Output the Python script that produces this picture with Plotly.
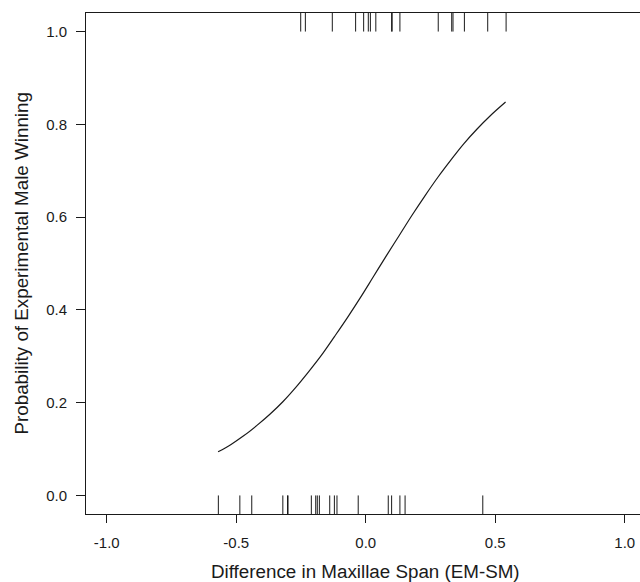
import plotly.graph_objects as go

# Observed differences in maxillae span (EM-SM), split by outcome
win_x = [-0.251, -0.233, -0.129, -0.039, -0.008, 0.010, 0.018, 0.039, 0.100, 0.102,
         0.132, 0.280, 0.332, 0.337, 0.381, 0.471, 0.542]
loss_x = [-0.569, -0.486, -0.440, -0.320, -0.300, -0.302, -0.210, -0.193, -0.187, -0.179,
          -0.139, -0.121, -0.111, -0.029, 0.087, 0.100, 0.132, 0.152, 0.452]
win_y = 1.0
loss_y = 0.0

# Fitted probability curve
curve_x = [-0.57, -0.52, -0.47, -0.42, -0.37, -0.32, -0.27, -0.22, -0.17, -0.12,
           -0.07, -0.02, 0.03, 0.08, 0.13, 0.18, 0.23, 0.28, 0.33, 0.38, 0.43, 0.48, 0.54]
curve_p = [0.094, 0.110, 0.129, 0.151, 0.175, 0.202, 0.233, 0.267, 0.303, 0.343,
           0.384, 0.427, 0.472, 0.517, 0.561, 0.605, 0.647, 0.687, 0.724, 0.759,
           0.790, 0.818, 0.848]

x_ticks = [-1.0, -0.5, 0.0, 0.5, 1.0]
y_ticks = [0.0, 0.2, 0.4, 0.6, 0.8, 1.0]

RUG = 0.046
FONT = "Liberation Sans, Arial, Helvetica, sans-serif"
INK = "#1a1a1a"


def rug(xs, y0, y1):
    X, Y = [], []
    for v in xs:
        X += [v, v, None]
        Y += [y0, y1, None]
    return X, Y


fig = go.Figure()
tx, ty = rug(win_x, win_y, win_y + RUG)
fig.add_trace(go.Scatter(x=tx, y=ty, mode="lines", line=dict(color=INK, width=1),
                         hoverinfo="skip", showlegend=False))
bx, by = rug(loss_x, loss_y, loss_y - RUG)
fig.add_trace(go.Scatter(x=bx, y=by, mode="lines", line=dict(color=INK, width=1),
                         hoverinfo="skip", showlegend=False))
fig.add_trace(go.Scatter(x=curve_x, y=curve_p, mode="lines",
                         line=dict(color=INK, width=1.2, shape="spline", smoothing=1.0),
                         showlegend=False))

W, H = 640, 582
L, T, B = 86, 13, 68
PH = H - T - B
px_per_unit = 259.0
x0 = -1.08
x1 = x0 + (W - L) / px_per_unit

fig.update_layout(
    width=W, height=H,
    margin=dict(l=L, r=0, t=T, b=B, pad=0),
    plot_bgcolor="white", paper_bgcolor="white",
    font=dict(family=FONT, size=15, color=INK),
    xaxis=dict(range=[x0, x1], tickvals=x_ticks, ticktext=[f"{v:.1f}" for v in x_ticks],
               showgrid=False, zeroline=False, showline=True, linecolor=INK, linewidth=1,
               mirror=True, ticks="outside", ticklen=8, tickcolor=INK, tickwidth=1,
               ticklabelstandoff=7, ticklabeloverflow="allow",
               tickfont=dict(size=15, family=FONT, color=INK)),
    yaxis=dict(range=[-0.04, 1.04], tickvals=y_ticks, ticktext=[f"{v:.1f}" for v in y_ticks],
               showgrid=False, zeroline=False, showline=True, linecolor=INK, linewidth=1,
               mirror=False, ticks="outside", ticklen=9, tickcolor=INK, tickwidth=1,
               ticklabelstandoff=6, tickfont=dict(size=15, family=FONT, color=INK)),
    annotations=[
        dict(text="Difference in Maxillae Span (EM-SM)", xref="x", yref="paper",
             x=0.0, y=-(571 - (T + PH)) / PH,
             xanchor="center", yanchor="middle", showarrow=False,
             font=dict(size=18.8, family=FONT, color=INK)),
        dict(text="Probability of Experimental Male Winning", xref="paper", yref="paper",
             x=(21 - L) / (W - L), y=0.5, textangle=-90, xanchor="center", yanchor="middle",
             showarrow=False, font=dict(size=18.8, family=FONT, color=INK)),
    ],
)

fig.write_html(
    "out.html",
    config={"displayModeBar": False},
    post_script="document.body.style.margin='0';document.body.style.overflow='hidden';",
)
